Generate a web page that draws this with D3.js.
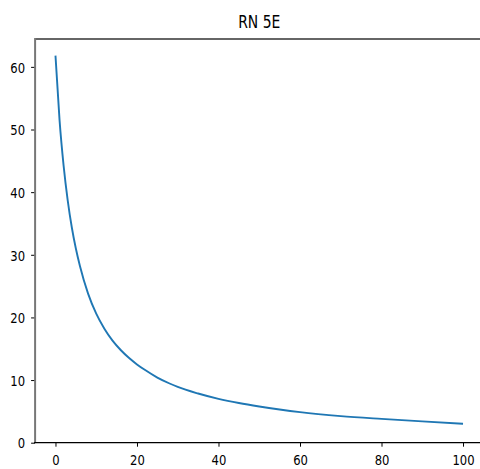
<!DOCTYPE html>
<html>
<head>
<meta charset="utf-8">
<script src="https://cdn.jsdelivr.net/npm/d3@7"></script>
<style>
  html, body { margin: 0; padding: 0; background: #fff; }
  svg { display: block; }
  text { font-family: "DejaVu Sans", sans-serif; fill: #000; }
</style>
</head>
<body>
<svg id="chart" width="480" height="469"></svg>
<script>
const title = "RN 5E";
const xValues = [0, 1, 2, 3, 4, 5, 6, 8, 10, 12, 14, 16, 18, 20, 22, 25, 28, 30, 35, 40, 45, 50, 55, 60, 70, 80, 90, 100];
const yValues = [61.8, 51.5, 44.2, 38.7, 34.4, 31.0, 28.2, 23.8, 20.6, 18.2, 16.3, 14.8, 13.55, 12.5, 11.6, 10.4, 9.45, 8.9, 7.85, 7.0, 6.33, 5.78, 5.3, 4.88, 4.25, 3.8, 3.4, 3.03];
const xTicks = [0, 20, 40, 60, 80, 100];
const yTicks = [0, 10, 20, 30, 40, 50, 60];

const svg = d3.select("#chart");
const mLeft = 35.1, mRight = 483.4, mTop = 39, mBottom = 442.7;
const sx = 0.8; // horizontal squeeze of glyphs

const x = d3.scaleLinear().domain([-5, 105]).range([mLeft, mRight]);
const y = d3.scaleLinear().domain([0, 64.45]).range([mBottom, mTop]);

// x axis
const gx = svg.append("g").attr("transform", `translate(0,${mBottom})`)
  .call(d3.axisBottom(x).tickValues(xTicks).tickSize(4).tickSizeOuter(0).tickFormat(d3.format("d")));
gx.select(".domain").remove();
gx.selectAll(".tick line").attr("stroke", "#000").attr("stroke-width", 1);
gx.selectAll(".tick text")
  .attr("y", 22).attr("dy", 0)
  .attr("font-size", 14.5).attr("font-family", "DejaVu Sans")
  .attr("transform", `scale(${sx},1)`);

// y axis
const gy = svg.append("g").attr("transform", `translate(${mLeft},0)`)
  .call(d3.axisLeft(y).tickValues(yTicks).tickSize(4).tickSizeOuter(0).tickFormat(d3.format("d")));
gy.select(".domain").remove();
gy.selectAll(".tick line").attr("stroke", "#000").attr("stroke-width", 1);
gy.selectAll(".tick text")
  .attr("x", -10 / sx).attr("dy", "0.36em")
  .attr("font-size", 14.5).attr("font-family", "DejaVu Sans")
  .attr("transform", `scale(${sx},1)`);

// spines
svg.append("line").attr("x1", mLeft).attr("x2", 480).attr("y1", mTop).attr("y2", mTop)
  .attr("stroke", "#666").attr("stroke-width", 1.8);
svg.append("line").attr("x1", mLeft).attr("x2", mLeft).attr("y1", mTop - 0.9).attr("y2", mBottom)
  .attr("stroke", "#777").attr("stroke-width", 2);
svg.append("line").attr("x1", mLeft - 1).attr("x2", 480).attr("y1", mBottom).attr("y2", mBottom)
  .attr("stroke", "#000").attr("stroke-width", 1.2);

// line
const line = d3.line().x((d, i) => x(xValues[i])).y(d => y(d)).curve(d3.curveMonotoneX);
svg.append("path").datum(yValues)
  .attr("d", line)
  .attr("fill", "none")
  .attr("stroke", "#1f77b4")
  .attr("stroke-width", 1.9);

// title
svg.append("text")
  .attr("transform", `translate(${(mLeft + mRight) / 2},28) scale(0.82,1)`)
  .attr("text-anchor", "middle")
  .attr("font-size", 17)
  .text(title);
</script>
</body>
</html>
